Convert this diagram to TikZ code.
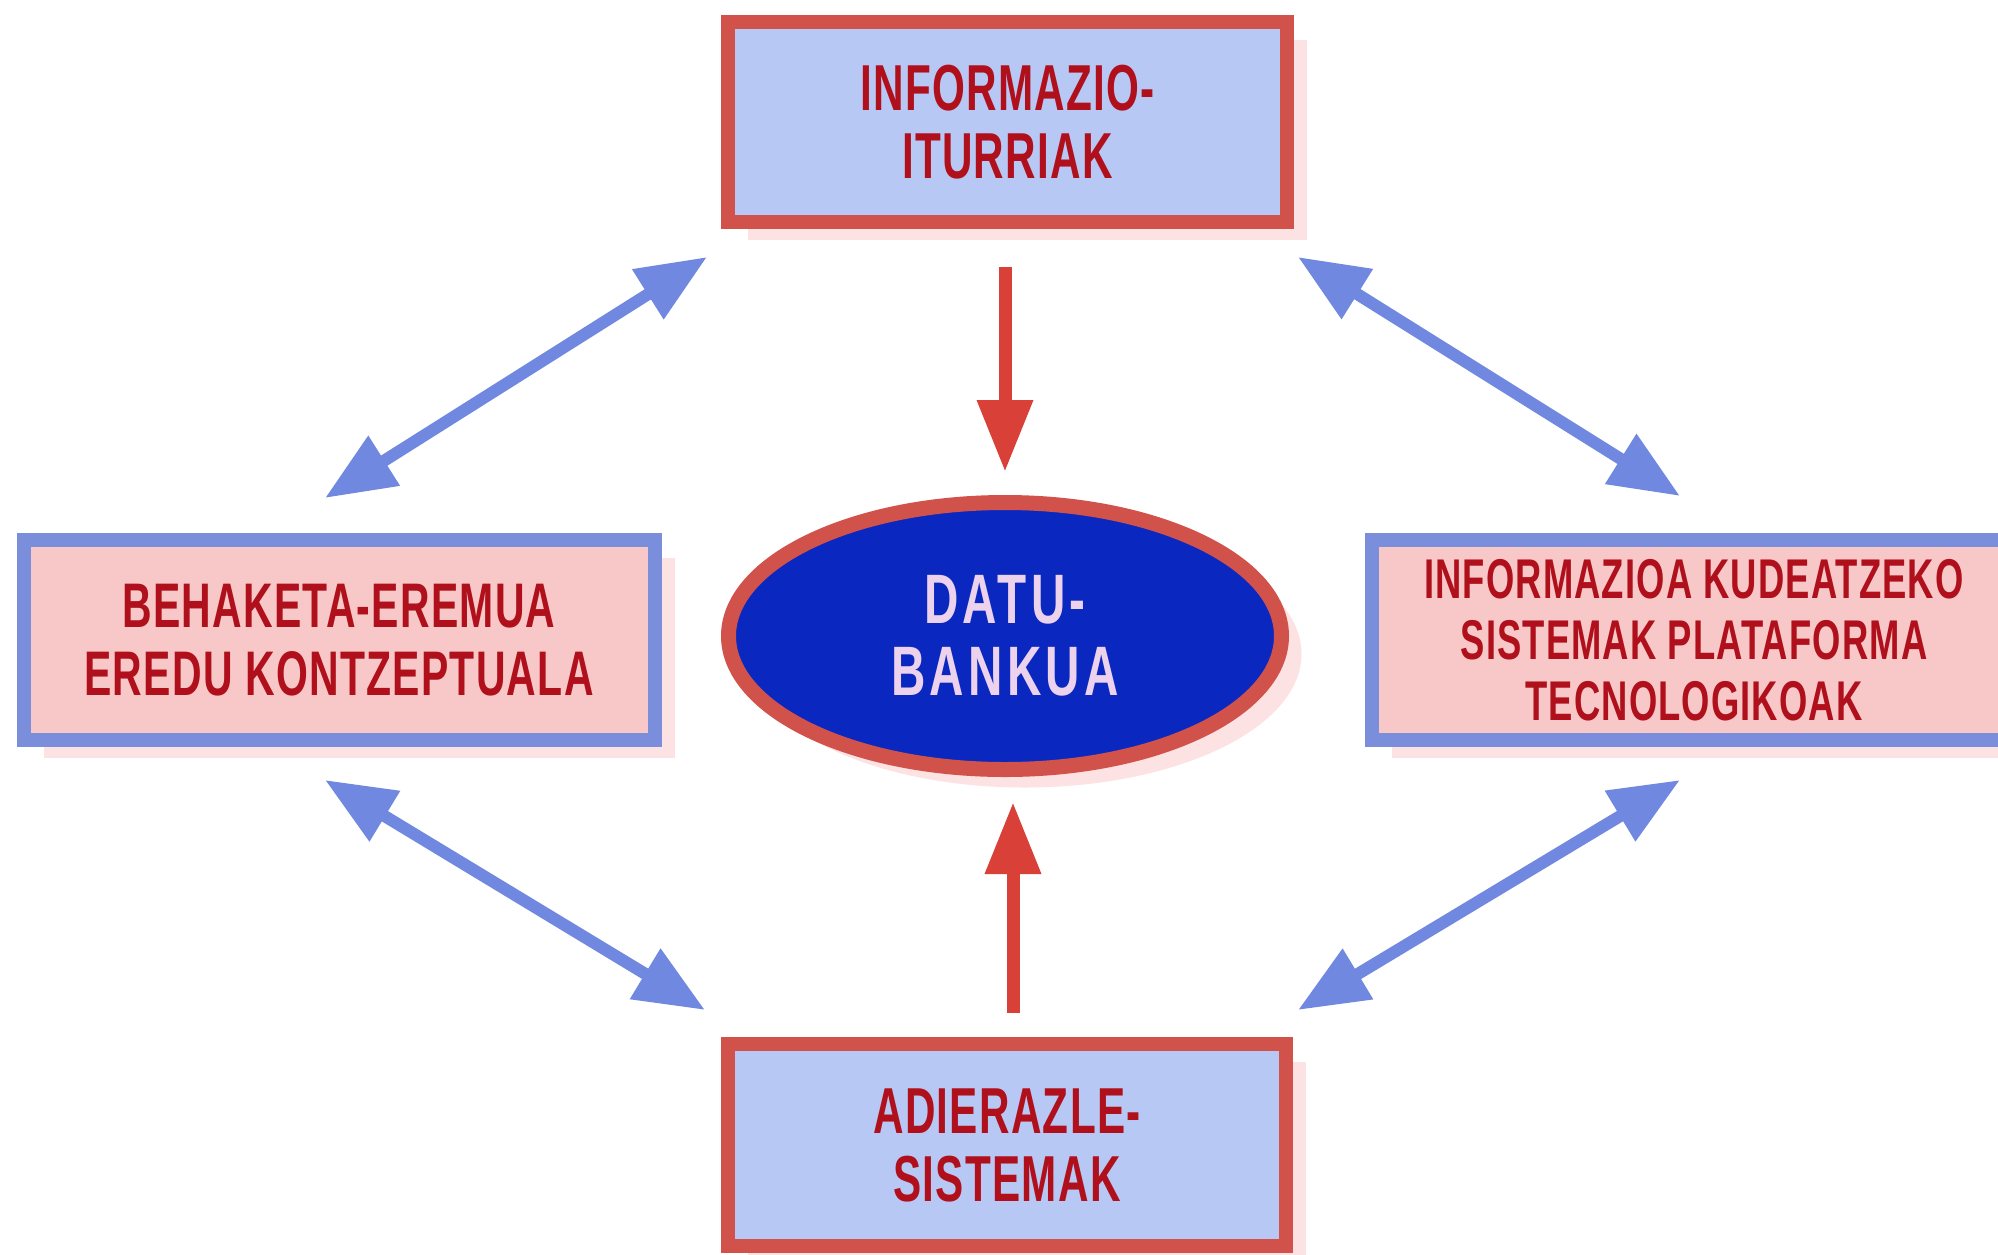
\documentclass[tikz,border=0pt]{standalone}
\usepackage{fontspec}
\usetikzlibrary{arrows.meta,shapes.geometric,shadows}
\newfontfamily\condfont{Liberation Sans}[FakeStretch=0.65,LetterSpace=2]
\newfontfamily\bankfont{Liberation Sans}[FakeStretch=0.68,LetterSpace=6]
\definecolor{txtred}{HTML}{B0101C}
\definecolor{boxred}{HTML}{D0524A}
\definecolor{boxblue}{HTML}{7A8EDC}
\definecolor{fillblue}{HTML}{B8C8F4}
\definecolor{fillpink}{HTML}{F8C8C8}
\definecolor{shadowpink}{HTML}{FCE2E2}
\definecolor{arrblue}{HTML}{7088E0}
\definecolor{arrred}{HTML}{D84038}
\definecolor{bankblue}{HTML}{0A28C0}
\definecolor{banktxt}{HTML}{ECD2EC}
\begin{document}
\begin{tikzpicture}[x=1pt,y=-1pt,
  pshadow/.style={drop shadow={shadow xshift=20pt,shadow yshift=-18pt,fill=shadowpink,opacity=1}},
  redbox/.style={draw=boxred,fill=fillblue,line width=14pt,inner sep=0pt,pshadow,
    text=txtred,align=center},
  bluebox/.style={draw=boxblue,fill=fillpink,line width=14pt,inner sep=0pt,pshadow,
    text=txtred,align=center},
  bankell/.style={ellipse,draw=boxred,fill=bankblue,line width=15pt,inner sep=0pt,pshadow,
    text=banktxt,align=center},
  bluearr/.style={draw=arrblue,line width=12pt,
    {Triangle[length=70pt,width=56pt]}-{Triangle[length=70pt,width=56pt]}},
  redarr/.style={draw=arrred,line width=13pt,-{Triangle[length=72pt,width=53pt]}}
]
\useasboundingbox[fill=white] (0,0) rectangle (1998,1254);

\node[redbox,minimum width=559pt,minimum height=200pt,
  font=\condfont\bfseries\fontsize{65}{68}\selectfont] (top) at (1007.5,122)
  {INFORMAZIO-\\ITURRIAK};
\node[redbox,minimum width=558pt,minimum height=202pt,
  font=\condfont\bfseries\fontsize{65}{68}\selectfont] (bot) at (1007,1145)
  {ADIERAZLE-\\SISTEMAK};
\node[bluebox,minimum width=631pt,minimum height=200pt,
  font=\condfont\bfseries\fontsize{63}{68}\selectfont] (left) at (339,640)
  {BEHAKETA-EREMUA\\EREDU KONTZEPTUALA};
\node[bluebox,minimum width=644pt,minimum height=200pt,
  font=\condfont\bfseries\fontsize{56}{61}\selectfont] (right) at (1694,640)
  {INFORMAZIOA KUDEATZEKO\\SISTEMAK PLATAFORMA\\TECNOLOGIKOAK};
\node[bankell,minimum width=553pt,minimum height=267pt,
  font=\bankfont\bfseries\fontsize{70}{72}\selectfont] (bank) at (1005,636)
  {DATU-\\BANKUA};

\coordinate (rd1) at (1005,267);
\coordinate (rd2) at (1005,472);
\coordinate (ru1) at (1013,1013);
\coordinate (ru2) at (1013,802);
\coordinate (tl1) at (325,498);
\coordinate (tl2) at (707,257);
\coordinate (tr1) at (1298,257);
\coordinate (tr2) at (1680,496);
\coordinate (bl1) at (325,780);
\coordinate (bl2) at (705,1010);
\coordinate (br1) at (1298,1010);
\coordinate (br2) at (1680,780);

\draw[redarr] (rd1) -- (rd2);
\draw[redarr] (ru1) -- (ru2);
\draw[bluearr] (tl1) -- (tl2);
\draw[bluearr] (tr1) -- (tr2);
\draw[bluearr] (bl1) -- (bl2);
\draw[bluearr] (br1) -- (br2);
\end{tikzpicture}
\end{document}
